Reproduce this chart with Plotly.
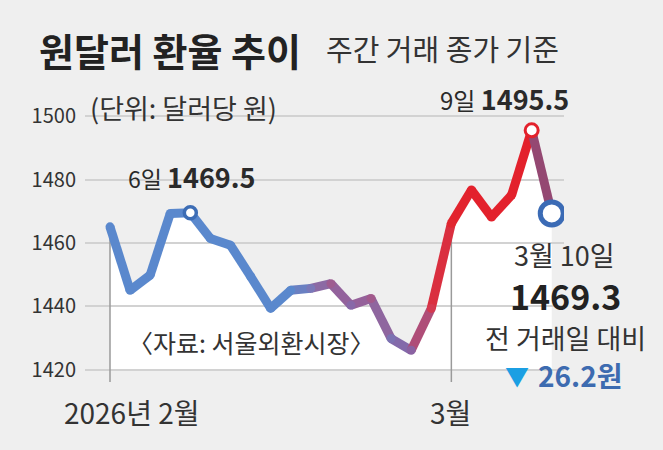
import plotly.graph_objects as go

# ---------------------------------------------------------------------------
# Data: 원/달러 주간 거래 종가 (2026-02-02 ~ 2026-03-10, 거래일 기준)
# ---------------------------------------------------------------------------
dates = ["02-02", "02-03", "02-04", "02-05", "02-06",
         "02-09", "02-10", "02-11", "02-12", "02-13",
         "02-19", "02-20", "02-23", "02-24", "02-25", "02-26", "02-27",
         "03-03", "03-04", "03-05", "03-06", "03-09", "03-10"]
rates = [1465.1, 1445.1, 1449.9, 1469.3, 1469.5,
         1461.4, 1459.3, 1449.5, 1439.4, 1445.1,
         1445.7, 1447.2, 1440.4, 1442.5, 1429.9, 1426.2, 1439.4,
         1466.2, 1476.7, 1468.2, 1475.1, 1495.5, 1469.3]
y_ticks = [1420, 1440, 1460, 1480, 1500]

# colour of the line at each point (blue -> purple -> red -> blue)
point_colors = ["#5a88cd"] * 10 + [
    "#7a78b8", "#9e5c90", "#8868a8", "#a25a8c", "#7c72b2", "#8a62a2",
    "#d4394f", "#e1262f", "#e3212c", "#e3212c", "#e3212c", "#e3212c",
    "#4670b8"]

x = list(range(len(rates)))
BASE = 1420          # white area floor
VLINE_BOTTOM = 1416.2

# canvas / plot-area geometry (px)
W, H = 663, 450
L, R, T, B = 85, 99, 97, 61
PW, PH = W - L - R, H - T - B
BG = "#efefef"
FONT = "Noto Sans CJK KR"
LW = 9


def px(v):
    return (v - L) / PW


def py(v):
    return (H - B - v) / PH


def mix(c1, c2):
    a = [int(c1[i:i + 2], 16) for i in (1, 3, 5)]
    b = [int(c2[i:i + 2], 16) for i in (1, 3, 5)]
    return "#" + "".join(f"{(p + q) // 2:02x}" for p, q in zip(a, b))


fig = go.Figure()

# line segments, each coloured between its two end colours
for i in range(len(rates) - 1):
    fig.add_trace(go.Scatter(
        x=[x[i], x[i + 1]], y=[rates[i], rates[i + 1]], mode="lines",
        line=dict(color=mix(point_colors[i], point_colors[i + 1]), width=LW),
        hoverinfo="skip", showlegend=False,
    ))

# round joints
fig.add_trace(go.Scatter(
    x=x, y=rates, mode="markers", text=dates,
    marker=dict(color=point_colors, size=LW, line=dict(width=0)),
    hovertemplate="%{text}: %{y}<extra></extra>", showlegend=False,
))

# highlighted points (6일, 9일, 10일)
hi = [4, 21, 22]
fig.add_trace(go.Scatter(
    x=[x[i] for i in hi], y=[rates[i] for i in hi], mode="markers",
    marker=dict(color="white", size=[12, 13, 23], opacity=1,
                line=dict(color=["#3d6db5", "#e3212c", "#3b6bb5"],
                          width=[3.5, 3, 5])),
    hoverinfo="skip", showlegend=False,
))

# white area under the line (below gridlines)
path = f"M {x[0]},{BASE} " + " ".join(f"L {a},{b}" for a, b in zip(x, rates)) \
       + f" L {x[-1]},{BASE} Z"
shapes = [dict(type="path", path=path, xref="x", yref="y", layer="below",
               fillcolor="white", line=dict(width=0))]
# month markers
for i in (0, 17):
    shapes.append(dict(type="line", xref="x", yref="y", layer="between",
                       x0=x[i], x1=x[i], y0=VLINE_BOTTOM, y1=rates[i],
                       line=dict(color="#9a9a9a", width=1.5)))

ann = [
    dict(x=px(37), y=py(49), xref="paper", yref="paper", xanchor="left",
         yanchor="middle", text="<b>원달러 환율 추이</b>",
         font=dict(size=38, color="#222222")),
    dict(x=px(324), y=py(48), xref="paper", yref="paper", xanchor="left",
         yanchor="middle", text="주간 거래 종가 기준",
         font=dict(size=29, color="#333333")),
    dict(x=px(88), y=py(107), xref="paper", yref="paper", xanchor="left",
         yanchor="middle", text="(단위: 달러당 원)",
         font=dict(size=27, color="#333333")),
    dict(x=px(126), y=py(342), xref="paper", yref="paper", xanchor="left",
         yanchor="middle", text="〈자료: 서울외환시장〉",
         font=dict(size=25, color="#333333")),
    dict(x=px(132), y=py(412), xref="paper", yref="paper", xanchor="center",
         yanchor="middle", text="2026년 2월",
         font=dict(size=28, color="#333333")),
    dict(x=px(450), y=py(412), xref="paper", yref="paper", xanchor="center",
         yanchor="middle", text="3월",
         font=dict(size=28, color="#333333")),
    # point labels
    dict(x=x[4], y=rates[4], xref="x", yref="y", xshift=2, yshift=36,
         xanchor="center", yanchor="middle",
         text='<span style="font-size:23px">6일 </span>'
              '<span style="font-size:27px"><b>1469.5</b></span>',
         font=dict(color="#2a2a2a")),
    dict(x=x[21], y=rates[21], xref="x", yref="y", xshift=-27, yshift=32,
         xanchor="center", yanchor="middle",
         text='<span style="font-size:24px">9일 </span>'
              '<span style="font-size:27px"><b>1495.5</b></span>',
         font=dict(color="#2a2a2a")),
    dict(x=x[22], y=rates[22], xref="x", yref="y", xshift=13, yshift=-41,
         xanchor="center", yanchor="middle", text="3월 10일",
         font=dict(size=27, color="#333333")),
    dict(x=x[22], y=rates[22], xref="x", yref="y", xshift=14, yshift=-82,
         xanchor="center", yanchor="middle", text="<b>1469.3</b>",
         font=dict(size=34, color="#222222")),
    dict(x=x[22], y=rates[22], xref="x", yref="y", xshift=14, yshift=-124,
         xanchor="center", yanchor="middle", text="전 거래일 대비",
         font=dict(size=27, color="#333333")),
    dict(x=x[22], y=rates[22], xref="x", yref="y", xshift=-35, yshift=-162,
         xanchor="center", yanchor="middle", text="▼",
         font=dict(size=24, color="#1b9fe3")),
    dict(x=x[22], y=rates[22], xref="x", yref="y", xshift=28, yshift=-162,
         xanchor="center", yanchor="middle", text="<b>26.2원</b>",
         font=dict(size=28, color="#3d6bb0")),
]
for a in ann:
    a["showarrow"] = False

fig.update_layout(
    width=W, height=H,
    margin=dict(l=L, r=R, t=T, b=B),
    paper_bgcolor=BG, plot_bgcolor=BG,
    font=dict(family=FONT, color="#333333"),
    shapes=shapes, annotations=ann,
    xaxis=dict(range=[-1.245, 22.61], showgrid=False, zeroline=False,
               showticklabels=False, showline=False, fixedrange=True),
    yaxis=dict(range=[1414, 1506], tickvals=y_ticks, showgrid=True,
               gridcolor="#d2d2d2", gridwidth=2, zeroline=False,
               ticks="", ticklabelstandoff=8, showline=False,
               tickfont=dict(size=20, color="#333333"), fixedrange=True),
    hovermode="closest",
)

# page margin off so the 663x450 figure fills the window
fig.write_html("out.html", config={"displayModeBar": False},
               post_script="document.body.style.margin='0';"
                           "document.body.style.overflow='hidden';")
